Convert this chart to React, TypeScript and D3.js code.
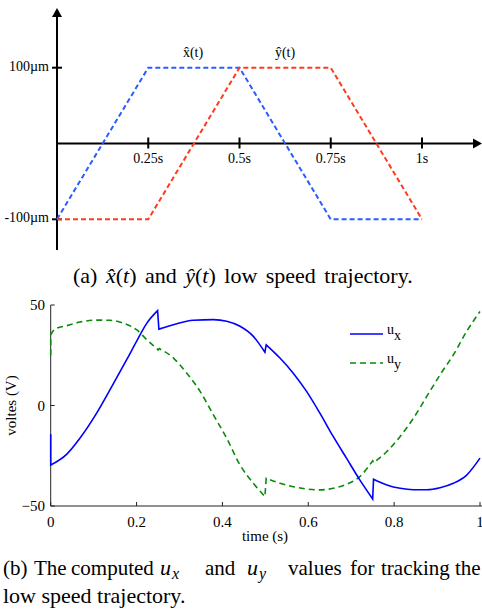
import React from 'react';
import * as d3 from 'd3';

// top plot: reference trajectories (t in s, position in µm)
const xHat: [number, number][] = [[0, -100], [0.25, 100], [0.5, 100], [0.75, -100], [1, -100]];
const yHat: [number, number][] = [[0, -100], [0.25, -100], [0.5, 100], [0.75, 100], [1, -100]];
const topTicksX = [0.25, 0.5, 0.75, 1];
const topTickLabelsX = ['0.25s', '0.5s', '0.75s', '1s'];
const topTicksY = [100, -100];
const topTickLabelsY = ['100µm', '-100µm'];

// bottom plot: computed voltages
const ux: [number, number][] = [
  [0, -14.3], [0, -29.6], [0.037, -24.3], [0.068, -16.3], [0.107, -3.8], [0.138, 7.8],
  [0.177, 22.8], [0.2, 31.9], [0.224, 41], [0.249, 47.2], [0.252, 38], [0.286, 40.2],
  [0.332, 42.4], [0.379, 42.7], [0.41, 41.9], [0.441, 39.4], [0.472, 34.4], [0.499, 26.5],
  [0.502, 30.2], [0.534, 23.6], [0.565, 16.1], [0.596, 7], [0.627, -3.8], [0.658, -15.4],
  [0.689, -26.2], [0.72, -37], [0.75, -46.5], [0.752, -36.7], [0.783, -39.5], [0.814, -41.2],
  [0.845, -41.9], [0.876, -41.9], [0.907, -40.9], [0.938, -38.7], [0.969, -34.6], [1, -26.2],
];
const uy: [number, number][] = [
  [0, 25], [0, 35.2], [0.01, 38], [0.037, 39.7], [0.068, 41.5], [0.107, 42.5], [0.138, 42.4],
  [0.169, 41], [0.2, 37.7], [0.224, 32.7], [0.248, 28.2], [0.25, 27.6], [0.253, 28.3],
  [0.286, 23.6], [0.317, 16.1], [0.348, 7], [0.379, -4.7], [0.41, -16.3], [0.441, -29.6],
  [0.472, -38.7], [0.499, -45.3], [0.502, -36.2], [0.534, -38.7], [0.565, -40.4], [0.596, -41.5],
  [0.627, -42], [0.658, -41.2], [0.689, -39.2], [0.72, -35.4], [0.75, -27.5], [0.752, -28.5],
  [0.783, -22.9], [0.814, -15.4], [0.845, -6.3], [0.876, 4.5], [0.907, 15.3], [0.938, 25.2],
  [0.969, 36.9], [1, 46.8],
];
const botTicksX = [0, 0.2, 0.4, 0.6, 0.8, 1];
const botTicksY = [-50, 0, 50];

const serif = '"Liberation Serif", "DejaVu Serif", serif';

// split a series at its jumps so every smooth piece gets its own monotone curve
function jumpPath(data: [number, number][], x: (v: number) => number, y: (v: number) => number) {
  const segs: [number, number][][] = [[data[0]]];
  for (let i = 1; i < data.length; i++) {
    const p = data[i - 1], q = data[i];
    if (q[0] - p[0] < 0.004) segs.push([q]);
    else segs[segs.length - 1].push(q);
  }
  const line = d3.line<[number, number]>().x(d => x(d[0])).y(d => y(d[1])).curve(d3.curveMonotoneX);
  let out = '';
  segs.forEach((s, i) => {
    let d: string;
    if (s.length === 1) d = `M${x(s[0][0])},${y(s[0][1])}`;
    else d = (line(s) ?? '').replace(/Z$/, '');
    out += i === 0 ? d : 'L' + d.slice(1);
  });
  return out;
}

export default function App() {
  // top chart scales
  const xT = d3.scaleLinear().domain([0, 1]).range([57, 422]);
  const yT = d3.scaleLinear().domain([-100, 100]).range([219.3, 67.7]);
  const lineT = d3.line<[number, number]>().x(d => xT(d[0])).y(d => yT(d[1]));

  // bottom chart scales
  const xB = d3.scaleLinear().domain([0, 1]).range([50.7, 480]);
  const yB = d3.scaleLinear().domain([-50, 50]).range([506, 305]);

  const x0 = xT(0);
  const y0 = yT(0);

  return (
    <svg width={482} height={609} style={{ position: 'absolute', left: 0, top: 0, background: '#fff' }}
      fontFamily={serif}>
      {/* ---- (a) ---- */}
      <g>
        <line x1={x0} x2={x0} y1={250} y2={14} stroke="#000" strokeWidth={2} />
        <path d={`M${x0},8 L${x0 - 5},17 L${x0 + 5},17 Z`} fill="#000" />
        <line x1={x0} x2={476} y1={y0} y2={y0} stroke="#000" strokeWidth={2} />
        <path d={`M482,${y0} L473,${y0 - 5} L473,${y0 + 5} Z`} fill="#000" />
        {topTicksX.map((t, i) => (
          <g key={t}>
            <line x1={xT(t)} x2={xT(t)} y1={y0 - 6} y2={y0 + 5} stroke="#000" strokeWidth={2} />
            <text x={xT(t)} y={163} textAnchor="middle" fontSize={14}>{topTickLabelsX[i]}</text>
          </g>
        ))}
        {topTicksY.map((v, i) => (
          <g key={v}>
            <line x1={x0 - 5} x2={x0 + 5} y1={yT(v)} y2={yT(v)} stroke="#000" strokeWidth={2} />
            <text x={49} y={yT(v) + 3} textAnchor="end" fontSize={14}>{topTickLabelsY[i]}</text>
          </g>
        ))}
        <path d={lineT(xHat) ?? ''} fill="none" stroke="#2b5cff" strokeWidth={2} strokeDasharray="5,3" />
        <path d={lineT(yHat) ?? ''} fill="none" stroke="#ff3b1f" strokeWidth={2} strokeDasharray="5,3" />
        <text x={193} y={57} textAnchor="middle" fontSize={14}>x̂(t)</text>
        <text x={285} y={57} textAnchor="middle" fontSize={14}>ŷ(t)</text>
        <text x={73} y={283} fontSize={22} wordSpacing={3}>
          (a) <tspan fontStyle="italic">x̂</tspan>(<tspan fontStyle="italic">t</tspan>) and{' '}
          <tspan fontStyle="italic">ŷ</tspan>(<tspan fontStyle="italic">t</tspan>) low speed trajectory.
        </text>
      </g>

      {/* ---- (b) ---- */}
      <g>
        <line x1={xB(0)} x2={482} y1={yB(-50)} y2={yB(-50)} stroke="#222" strokeWidth={1} />
        <line x1={xB(0)} x2={xB(0)} y1={yB(50)} y2={yB(-50)} stroke="#222" strokeWidth={1} />
        {botTicksX.map(t => (
          <g key={t}>
            <line x1={xB(t)} x2={xB(t)} y1={yB(-50)} y2={yB(-50) - 4} stroke="#222" />
            <text x={xB(t)} y={527} textAnchor="middle" fontSize={15}>{t}</text>
          </g>
        ))}
        {botTicksY.map(v => (
          <g key={v}>
            <line x1={xB(0)} x2={xB(0) + 4} y1={yB(v)} y2={yB(v)} stroke="#222" />
            <text x={45} y={yB(v) + 5} textAnchor="end" fontSize={15}>{v < 0 ? `−${-v}` : v}</text>
          </g>
        ))}
        <path d={jumpPath(uy, xB, yB)} fill="none" stroke="#0a8a0a" strokeWidth={1.6} strokeDasharray="6,4" />
        <path d={jumpPath(ux, xB, yB)} fill="none" stroke="#0000ff" strokeWidth={1.6} />
        <text x={265} y={541} textAnchor="middle" fontSize={15}>time (s)</text>
        <text transform={`translate(16,${yB(0)}) rotate(-90)`} textAnchor="middle" fontSize={15}>voltes (V)</text>

        {/* legend */}
        <line x1={350} x2={383} y1={334} y2={334} stroke="#0000ff" strokeWidth={1.6} />
        <text x={387} y={334} fontSize={14}>u<tspan dy={6}>x</tspan></text>
        <line x1={350} x2={383} y1={363} y2={363} stroke="#0a8a0a" strokeWidth={1.6} strokeDasharray="6,4" />
        <text x={387} y={363} fontSize={14}>u<tspan dy={6}>y</tspan></text>

        <text y={575} fontSize={21}>
          <tspan x={3}>(b)</tspan>
          <tspan x={34}>The</tspan>
          <tspan x={71}>computed</tspan>
          <tspan x={160} fontStyle="italic" fontSize={22}>u</tspan><tspan fontStyle="italic" fontSize={16} dx={1} dy={4}>x</tspan>
          <tspan x={205} dy={-4}>and</tspan>
          <tspan x={247} fontStyle="italic" fontSize={22}>u</tspan><tspan fontStyle="italic" fontSize={16} dx={1} dy={4}>y</tspan>
          <tspan x={288} dy={-4}>values</tspan>
          <tspan x={350}>for</tspan>
          <tspan x={381}>tracking</tspan>
          <tspan x={455}>the</tspan>
        </text>
        <text x={3} y={603} fontSize={22}>low speed trajectory.</text>
      </g>
    </svg>
  );
}
